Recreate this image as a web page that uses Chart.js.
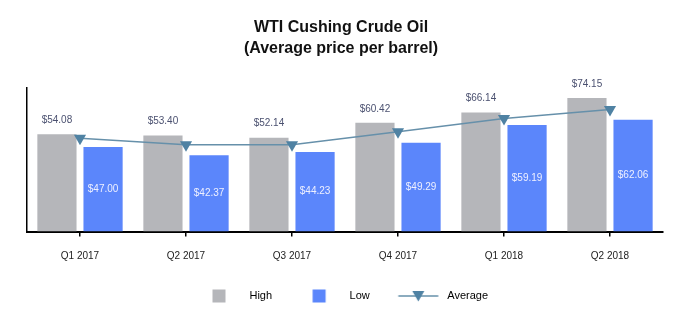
<!DOCTYPE html>
<html>
<head>
<meta charset="utf-8">
<script src="https://cdn.jsdelivr.net/npm/chart.js@4.4.1/dist/chart.umd.min.js"></script>
<style>
  html, body { margin: 0; padding: 0; background: #fff; }
  #wrap { width: 696px; height: 333px; }
</style>
</head>
<body>
<div id="wrap"><canvas id="myChart" width="696" height="333"></canvas></div>
<script>
const quarters = ["Q1 2017", "Q2 2017", "Q3 2017", "Q4 2017", "Q1 2018", "Q2 2018"];
const highPrices = [54.08, 53.4, 52.14, 60.42, 66.14, 74.15];
const lowPrices = [47.0, 42.37, 44.23, 49.29, 59.19, 62.06];
const avgPrices = [51.91, 48.29, 48.21, 55.4, 62.87, 67.88];

const highColor = "#b5b6ba";
const lowColor = "#5b86fb";
const lineColor = "#6690aa";
const markerColor = "#4f82a3";
const sans = "'Liberation Sans', Arial, sans-serif";

// legend swatches drawn on small canvases (58 px wide, text starts 5.5 px after)
function swatch(kind) {
  const c = document.createElement("canvas");
  c.width = 58;
  c.height = 14;
  const g = c.getContext("2d");
  if (kind === "line") {
    g.strokeStyle = lineColor;
    g.lineWidth = 1.5;
    g.beginPath();
    g.moveTo(14.5, 7);
    g.lineTo(54.5, 7);
    g.stroke();
    g.fillStyle = markerColor;
    g.beginPath();
    g.moveTo(28.5, 2);
    g.lineTo(40.5, 2);
    g.lineTo(34.5, 12.5);
    g.closePath();
    g.fill();
  } else {
    g.fillStyle = kind;
    g.fillRect(26.5, 0.5, 13, 13);
  }
  return c;
}

const valueLabels = {
  id: "valueLabels",
  afterLayout(chart) {
    // legend sits a little left of centre in the original
    chart.legend.left -= 4;
    chart.legend.right -= 4;
  },
  afterDatasetsDraw(chart) {
    const ctx = chart.ctx;
    ctx.save();
    ctx.textAlign = "center";
    ctx.textBaseline = "middle";
    ctx.font = "10px " + sans;
    chart.getDatasetMeta(0).data.forEach((bar, i) => {
      ctx.fillStyle = "#4b5170";
      ctx.fillText("$" + highPrices[i].toFixed(2), bar.x, bar.y - 14);
    });
    chart.getDatasetMeta(1).data.forEach((bar, i) => {
      ctx.fillStyle = "#eef0ff";
      ctx.fillText("$" + lowPrices[i].toFixed(2), bar.x, (bar.y + bar.base) / 2);
    });
    ctx.restore();
  },
};

const ctx = document.getElementById("myChart");

new Chart(ctx, {
  type: "bar",
  data: {
    labels: quarters,
    datasets: [
      {
        label: "High",
        data: highPrices,
        backgroundColor: highColor,
        categoryPercentage: 0.87,
        barPercentage: 0.85,
        order: 1,
      },
      {
        label: "Low",
        data: lowPrices,
        backgroundColor: lowColor,
        categoryPercentage: 0.87,
        barPercentage: 0.85,
        order: 1,
      },
      {
        type: "line",
        label: "Average",
        data: avgPrices,
        borderColor: lineColor,
        borderWidth: 1.5,
        pointStyle: "triangle",
        rotation: 180,
        pointRadius: 7,
        pointBackgroundColor: markerColor,
        pointBorderColor: markerColor,
        pointBorderWidth: 0,
        tension: 0,
        order: 0,
      },
    ],
  },
  options: {
    responsive: false,
    animation: false,
    events: [],
    layout: {
      padding: { left: 19, right: 33, top: 0, bottom: 21.5 },
    },
    plugins: {
      tooltip: { enabled: false },
      title: {
        display: true,
        text: ["WTI Cushing Crude Oil", "(Average price per barrel)"],
        color: "#111",
        font: { family: sans, size: 16, weight: "bold", lineHeight: 1.3 },
        padding: { top: 17, bottom: 29 },
      },
      legend: {
        position: "bottom",
        labels: {
          usePointStyle: true,
          pointStyleWidth: 58,
          padding: 14,
          color: "#222",
          font: { family: sans, size: 11 },
          generateLabels() {
            return [
              { text: "High", pointStyle: swatch(highColor), fillStyle: highColor, strokeStyle: highColor, lineWidth: 0, datasetIndex: 0 },
              { text: "Low", pointStyle: swatch(lowColor), fillStyle: lowColor, strokeStyle: lowColor, lineWidth: 0, datasetIndex: 1 },
              { text: "Average", pointStyle: swatch("line"), fillStyle: lineColor, strokeStyle: lineColor, lineWidth: 0, datasetIndex: 2 },
            ];
          },
        },
      },
    },
    scales: {
      x: {
        offset: true,
        grid: {
          display: true,
          offset: false,
          drawOnChartArea: false,
          drawTicks: true,
          tickLength: 5,
          color: "#000",
          lineWidth: 1.5,
        },
        border: { display: true, color: "#000", width: 2 },
        ticks: {
          color: "#222",
          font: { family: sans, size: 10 },
          padding: 14,
          maxRotation: 0,
        },
      },
      y: {
        min: 0,
        max: 80,
        grid: { display: false },
        border: { display: true, color: "#000", width: 1.5 },
        ticks: { display: false },
      },
    },
  },
  plugins: [valueLabels],
});
</script>
</body>
</html>
